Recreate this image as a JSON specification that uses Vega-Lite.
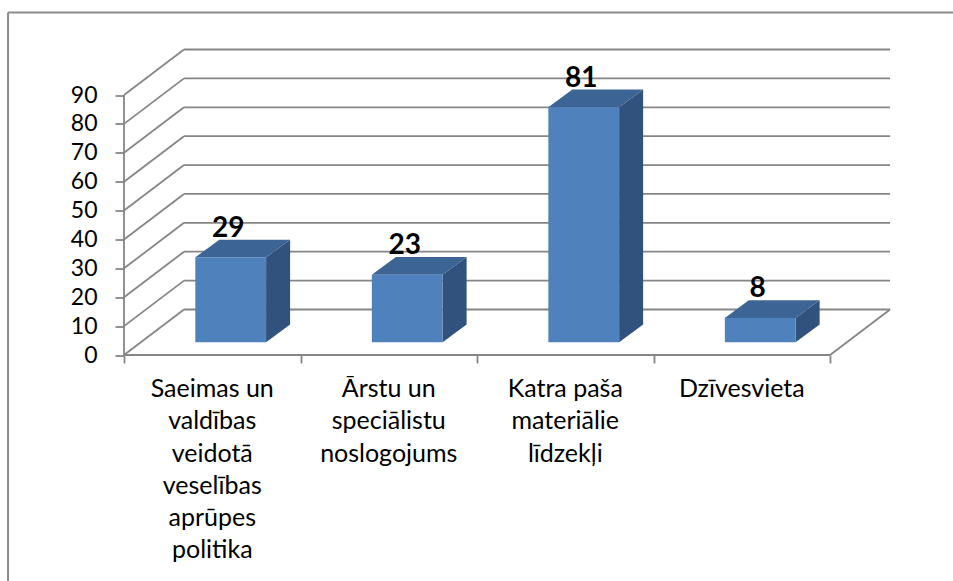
{"$schema":"https://vega.github.io/schema/vega-lite/v6.json","width":768,"height":305.5,"autosize":{"type":"none"},"padding":{"left":124,"top":49.5,"right":61,"bottom":226},"background":"white","config":{"view":{"stroke":null},"text":{"font":"Lato"},"axisX":{"labels":false,"domain":false,"grid":false,"tickSize":8,"tickColor":"#868686","tickWidth":1.8},"axisY":{"domain":false,"grid":false,"tickSize":9,"tickColor":"#868686","tickWidth":1.8,"labelFont":"Lato","labelFontSize":23,"labelColor":"#000000","labelPadding":18,"labelOverlap":false,"labelBound":false,"labelFlush":false}},"datasets":{"bars":[{"cat":"Saeimas un\nvaldības\nveidotā\nveselības\naprūpes\npolitika","i":0,"v":29},{"cat":"Ārstu un\nspeciālistu\nnoslogojums","i":1,"v":23},{"cat":"Katra paša\nmateriālie\nlīdzekļi","i":2,"v":81},{"cat":"Dzīvesvieta","i":3,"v":8}],"ticks":[{"v":0},{"v":10},{"v":20},{"v":30},{"v":40},{"v":50},{"v":60},{"v":70},{"v":80},{"v":90}]},"layer":[{"data":{"name":"ticks"},"transform":[{"calculate":"datum.v+15.75","as":"vb"},{"calculate":"0","as":"xa"},{"calculate":"0.34","as":"xb"}],"mark":{"type":"rule","color":"#868686","strokeWidth":1.8},"encoding":{"x":{"field":"xa","type":"quantitative","title":null,"scale":{"domain":[0,4.351],"nice":false,"zero":false},"axis":{"values":[0,1,2,3,4]}},"y":{"field":"v","type":"quantitative","title":null,"scale":{"domain":[0,105.75],"nice":false,"zero":false},"axis":{"values":[0,10,20,30,40,50,60,70,80,90]}},"x2":{"field":"xb"},"y2":{"field":"vb"}}},{"data":{"name":"ticks"},"transform":[{"calculate":"datum.v+15.75","as":"vb"},{"calculate":"0.34","as":"xa"},{"calculate":"4.34","as":"xb"}],"mark":{"type":"rule","color":"#868686","strokeWidth":1.8},"encoding":{"x":{"field":"xa","type":"quantitative","title":null,"axis":{"values":[0,1,2,3,4]}},"x2":{"field":"xb"},"y":{"field":"vb","type":"quantitative","title":null,"axis":{"values":[0,10,20,30,40,50,60,70,80,90]}}}},{"data":{"values":[{"a":0,"b":4,"c":0,"d":0},{"a":4,"b":4.34,"c":0,"d":15.75},{"a":0,"b":0,"c":0,"d":90}]},"mark":{"type":"rule","color":"#868686","strokeWidth":1.8},"encoding":{"x":{"field":"a","type":"quantitative","title":null,"axis":{"values":[0,1,2,3,4]}},"x2":{"field":"b"},"y":{"field":"c","type":"quantitative","title":null,"axis":{"values":[0,10,20,30,40,50,60,70,80,90]}},"y2":{"field":"d"}}},{"data":{"values":[{"a":-0.657,"b":-0.657,"c":118.55,"d":-78.3},{"a":-0.657,"b":4.7,"c":118.55,"d":118.55}]},"mark":{"type":"rule","color":"#8c8c8c","strokeWidth":2},"encoding":{"x":{"field":"a","type":"quantitative","title":null,"axis":{"values":[0,1,2,3,4]}},"x2":{"field":"b"},"y":{"field":"c","type":"quantitative","title":null,"axis":{"values":[0,10,20,30,40,50,60,70,80,90]}},"y2":{"field":"d"}}},{"data":{"name":"bars"},"transform":[{"calculate":"[datum.i+0.805,datum.i+0.941]","as":"xs"},{"calculate":"[4.4,10.53]","as":"lo"},{"calculate":"[datum.v+4.8,datum.v+10.93]","as":"hi"},{"flatten":["xs","lo","hi"]}],"mark":{"type":"area","color":"#31527D","opacity":1},"encoding":{"x":{"field":"xs","type":"quantitative","title":null,"axis":{"values":[0,1,2,3,4]}},"y":{"field":"hi","type":"quantitative","title":null,"axis":{"values":[0,10,20,30,40,50,60,70,80,90]}},"y2":{"field":"lo"},"detail":{"field":"i"}}},{"data":{"name":"bars"},"transform":[{"calculate":"[datum.i+0.404,datum.i+0.54,datum.i+0.805,datum.i+0.941]","as":"xs"},{"calculate":"[datum.v+4.8,datum.v+4.8,datum.v+4.8,datum.v+10.93]","as":"lo"},{"calculate":"[datum.v+4.8,datum.v+10.93,datum.v+10.93,datum.v+10.93]","as":"hi"},{"flatten":["xs","lo","hi"]}],"mark":{"type":"area","color":"#3C6494","opacity":1},"encoding":{"x":{"field":"xs","type":"quantitative","title":null,"axis":{"values":[0,1,2,3,4]}},"y":{"field":"hi","type":"quantitative","title":null,"axis":{"values":[0,10,20,30,40,50,60,70,80,90]}},"y2":{"field":"lo"},"detail":{"field":"i"}}},{"data":{"name":"bars"},"transform":[{"calculate":"datum.i+0.404","as":"x0"},{"calculate":"datum.i+0.805","as":"x1"},{"calculate":"4.4","as":"b"},{"calculate":"datum.v+4.8","as":"t"}],"mark":{"type":"rect","color":"#4F81BD"},"encoding":{"x":{"field":"x0","type":"quantitative","title":null,"axis":{"values":[0,1,2,3,4]}},"x2":{"field":"x1"},"y":{"field":"b","type":"quantitative","title":null,"axis":{"values":[0,10,20,30,40,50,60,70,80,90]}},"y2":{"field":"t"}}},{"data":{"name":"bars"},"transform":[{"calculate":"datum.i+0.59","as":"xl"},{"calculate":"datum.v+14.7","as":"yl"}],"mark":{"type":"text","fontWeight":"bold","fontSize":28,"baseline":"middle","align":"center","color":"#000000"},"encoding":{"x":{"field":"xl","type":"quantitative","title":null,"axis":{"values":[0,1,2,3,4]}},"y":{"field":"yl","type":"quantitative","title":null,"axis":{"values":[0,10,20,30,40,50,60,70,80,90]}},"text":{"field":"v","type":"quantitative"}}},{"data":{"name":"bars"},"transform":[{"calculate":"datum.i+0.5","as":"xl"},{"calculate":"-7.6","as":"yl"}],"mark":{"type":"text","fontSize":25,"baseline":"top","align":"center","lineBreak":"\n","lineHeight":32.3,"color":"#000000"},"encoding":{"x":{"field":"xl","type":"quantitative","title":null,"axis":{"values":[0,1,2,3,4]}},"y":{"field":"yl","type":"quantitative","title":null,"axis":{"values":[0,10,20,30,40,50,60,70,80,90]}},"text":{"field":"cat","type":"nominal"}}}]}
